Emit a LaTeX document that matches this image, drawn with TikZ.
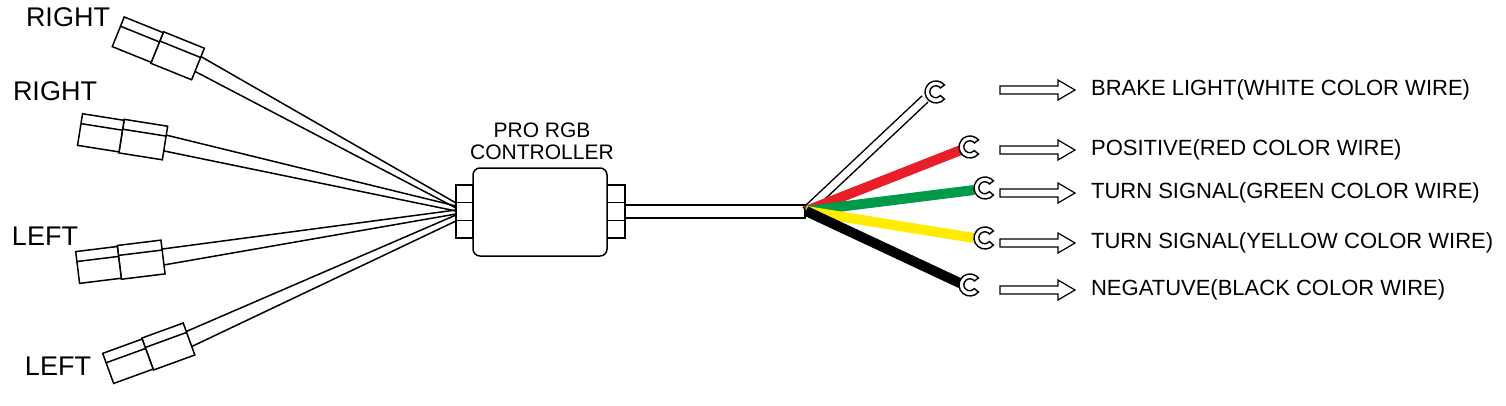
\documentclass[tikz,border=0pt]{standalone}
\usepackage{fontspec}
\setmainfont{Liberation Sans}
\definecolor{wred}{RGB}{232,30,40}
\definecolor{wgreen}{RGB}{0,155,72}
\definecolor{wyellow}{RGB}{255,236,0}
\begin{document}
\begin{tikzpicture}[x=1pt,y=-1pt,line width=1.5pt,
  big/.style={font=\fontsize{27}{27}\selectfont,anchor=center},
  lab/.style={font=\fontsize{22}{22}\selectfont,anchor=west},
  ctl/.style={font=\fontsize{21}{21}\selectfont},
  wire/.style={line width=10pt,line cap=butt}]
\useasboundingbox (0,0) rectangle (1506,405);
% connectors
\newcommand\plug[4]{%
 \begin{scope}[shift={(#1,#2)},x={({cos(#3)*1pt},{sin(#3)*1pt})},y={({-sin(#3)*1pt},{cos(#3)*1pt})}]
  \draw[fill=white] (0,-17) -- (44,-17) -- (44,17) -- (0,17) -- cycle;
  \draw (0,-7) -- (44,-7);
  \draw[fill=white] (44,-16) -- (86,-16) -- (86,16) -- (44,16) -- cycle;
  \draw (44,-6) -- (86,-6);
  \coordinate (#4a) at (0,-8);
  \coordinate (#4b) at (0,8);
 \end{scope}}
\plug{198}{64}{158}{c1}
\plug{165}{143}{171}{c2}
\plug{163}{257}{187}{c3}
\plug{189}{339}{200}{c4}
\coordinate (h1a) at (456,203); \coordinate (h1b) at (456,208);
\coordinate (h2a) at (456,206); \coordinate (h2b) at (456,211);
\coordinate (h3a) at (456,210); \coordinate (h3b) at (456,214);
\coordinate (h4a) at (456,215); \coordinate (h4b) at (456,221);
\foreach \i in {1,2,3,4}{\draw (c\i a) -- (h\i a); \draw (c\i b) -- (h\i b);}
% labels left
\node[big] (l1) at (68,17) {RIGHT};
\node[big] (l2) at (55,91) {RIGHT};
\node[big] (l3) at (45,236) {LEFT};
\node[big] (l4) at (58,366) {LEFT};
% controller
\draw[fill=white] (456,185) rectangle (473,238);
\draw (456,202.7) -- (473,202.7) (456,220.3) -- (473,220.3);
\draw[fill=white] (607,185) rectangle (625,238);
\draw (607,202.7) -- (625,202.7) (607,220.3) -- (625,220.3);
\draw[rounded corners=7pt,fill=white] (473,168) rectangle (607,256);
\node[ctl] (t1) at (542,130) {PRO RGB};
\node[ctl] (t2) at (542,152) {CONTROLLER};
\draw (625,205) rectangle (805,218);
\coordinate (hub) at (806,211);
% terminals
\coordinate (e1) at (925,99);
\coordinate (e2) at (961,150);
\coordinate (e3) at (974,190);
\coordinate (e4) at (974,238);
\coordinate (e5) at (964,285);
\draw[line width=10pt] (hub) -- (e1);
\draw[line width=7pt,white] ([shift={(1,-1)}]hub) -- (e1);
\draw[wire,wred] (hub) -- (e2);
\draw[wire,wgreen] (hub) -- (e3);
\draw[wire,wyellow] (hub) -- (e4);
\draw[wire,black] (hub) -- (e5);
\newcommand\ring[2]{%
 \draw[fill=white,line width=1.4pt] (#1,#2) ++(40:11) arc (40:320:11) -- ++(-4,3) arc (320:40:6) -- cycle;}
\ring{936}{92}
\ring{970}{147}
\ring{985}{188}
\ring{985}{238}
\ring{970}{285}
% arrows and labels
\newcommand\darr[2]{%
 \draw[line width=1.2pt,fill=white] (1000,#1-4) -- (1058,#1-4) -- (1058,#1-10) -- (1075,#1) -- (1058,#1+10) -- (1058,#1+4) -- (1000,#1+4) -- cycle;
 \node[lab] at (1087,#1) {#2};}
\darr{90}{BRAKE LIGHT(WHITE COLOR WIRE)}
\darr{150}{POSITIVE(RED COLOR WIRE)}
\darr{193}{TURN SIGNAL(GREEN COLOR WIRE)}
\darr{243}{TURN SIGNAL(YELLOW COLOR WIRE)}
\darr{290}{NEGATUVE(BLACK COLOR WIRE)}
\end{tikzpicture}
\end{document}
